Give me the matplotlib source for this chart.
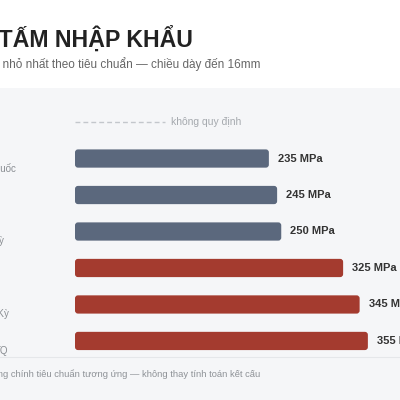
import matplotlib.pyplot as plt
import matplotlib.patches as mpatches
import matplotlib.transforms as mtransforms

plt.rcParams['font.family'] = ['Liberation Sans', 'DejaVu Sans']

# --- Data ---
countries = ["Nga", "Trung Quốc", "Nhật Bản", "Hoa Kỳ", "Nhật Bản", "Hoa Kỳ", "TQ"]
yield_mpa = [None, 235, 245, 250, 325, 345, 355]
is_high = [False, False, False, False, True, True, True]
no_value_text = "không quy định"

title = "THÉP TẤM NHẬP KHẨU"
subtitle = "Giới hạn chảy nhỏ nhất theo tiêu chuẩn — chiều dày đến 16mm"
footnote = "Giá trị tham khảo theo bảng chính tiêu chuẩn tương ứng — không thay tính toán kết cấu"

# label right edge in figure pixels (the picture is cropped on the left)
label_right_px = [-30, 16, -30, 4, -30, 9, 8]

C_LOW = '#5b687d'
C_HIGH = '#a43b2f'
PANEL = '#f5f6f8'

W = H = 400
fig = plt.figure(figsize=(4, 4), dpi=100)
fig.patch.set_facecolor('white')

# panel background
fig.patches.append(mpatches.Rectangle((0, 0), 1, 1 - 88 / H, transform=fig.transFigure,
                                      facecolor=PANEL, edgecolor='none', zorder=-5))
fig.lines.append(plt.Line2D([0, 1], [1 - 357 / H] * 2, transform=fig.transFigure,
                            color='#e5e7ea', lw=0.8, zorder=-4))

x0, x1 = 75 / W, 1.0
ytop, ybot = 103.8 / H, 359.2 / H
ax = fig.add_axes([x0, 1 - ybot, x1 - x0, ybot - ytop])
ax.set_zorder(2)
ax.set_facecolor('none')
xmax = (W - 75) / 0.825
ax.set_xlim(0, xmax)
ax.set_ylim(len(countries) - 0.5, -0.5)
ax.axis('off')

bar_h = 0.5
px_x = 0.825
px_y = (ybot - ytop) * H / len(countries)
r = 3.0
for i, v in enumerate(yield_mpa):
    if v is None:
        ax.plot([0, 90 / px_x], [i, i], color='#c3c7cc', lw=1.0, dashes=(3.5, 2.2))
        ax.annotate(no_value_text, xy=(90 / px_x, i), xytext=(4, 0), textcoords='offset points',
                    va='center', ha='left', fontsize=7.5, color='#a5a9ae')
        continue
    col = C_HIGH if is_high[i] else C_LOW
    box = mpatches.FancyBboxPatch((0, i - bar_h / 2), v, bar_h,
                                  boxstyle=f"round,pad=0,rounding_size={r / px_x}",
                                  mutation_aspect=(px_x / px_y),
                                  facecolor=col, edgecolor='none', clip_on=False)
    ax.add_patch(box)
    ax.annotate(f"{v} MPa", xy=(v, i), xytext=(6.5, 0), textcoords='offset points',
                va='center', ha='left', fontsize=8, fontweight='bold', color='#333333',
                annotation_clip=False)

# category labels (mostly cut by the crop)
trans = mtransforms.blended_transform_factory(fig.transFigure, ax.transData)
for i, name in enumerate(countries):
    fig.text(label_right_px[i] / W, i + 10 / px_y, name, transform=trans,
             ha='right', va='center', fontsize=7, color='#8a8e93')

fig.text(193 / W, 1 - 47 / H, title, ha='right', va='baseline', fontsize=16.7,
         fontweight='bold', color='#222222')
fig.text(260 / W, 1 - 68 / H, subtitle, ha='right', va='baseline', fontsize=8.5,
         color='#666666')
fig.text(260 / W, 1 - 377 / H, footnote, ha='right', va='baseline', fontsize=6.75,
         color='#8d9196')

fig.savefig('out.png', dpi=100)
